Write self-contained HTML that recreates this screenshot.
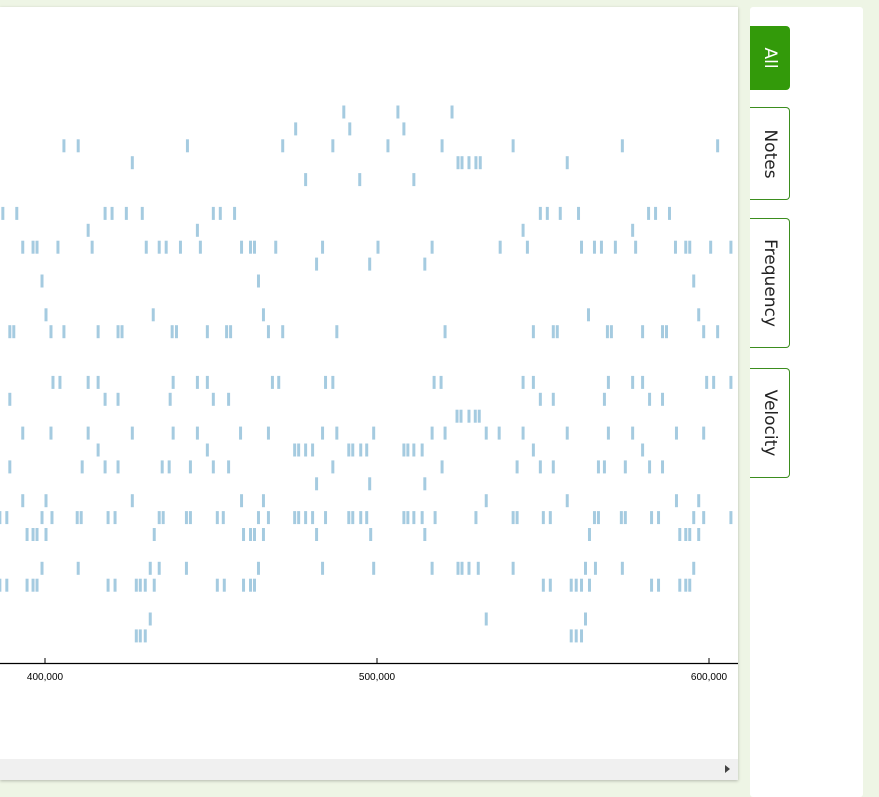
<!DOCTYPE html>
<html><head><meta charset="utf-8">
<style>
html,body{margin:0;padding:0;}
body{width:879px;height:789px;background:#eef5e5;position:relative;overflow:hidden;font-family:"Liberation Sans",sans-serif;}
#card{position:absolute;left:0;top:7px;width:738px;height:773px;background:#fff;box-shadow:0 1px 3px rgba(0,0,0,0.25);}
#scroll{position:absolute;left:0;top:752px;width:738px;height:21px;background:#f0f0f0;}
#arrow{position:absolute;right:8px;top:6px;width:0;height:0;border-top:4px solid transparent;border-bottom:4px solid transparent;border-left:5px solid #444;}
#panel{position:absolute;left:750px;top:7px;width:113px;height:790px;background:#fff;border-radius:3px;}
.tab{position:absolute;left:0;width:39px;border:1px solid #3b8d1e;border-left:none;border-radius:0 4px 4px 0;background:#fff;cursor:pointer;}
.tab span{position:absolute;left:50%;top:50%;transform:translate(-50%,-50%) rotate(90deg);white-space:nowrap;font-size:17px;color:#222;font-family:"DejaVu Sans","Liberation Sans",sans-serif;}
.tab.active{background:#339a0a;border-color:#339a0a;}
.tab.active span{color:#fff;}
</style></head><body>
<div id="card">
<svg id="chart" width="738" height="750" style="position:absolute;left:0;top:-7px"></svg>
<div id="scroll"><div id="arrow"></div></div>
</div>
<div id="panel">
<div class="tab active" style="top:19px;height:62px"><span>All</span></div>
<div class="tab" style="top:100px;height:91px"><span>Notes</span></div>
<div class="tab" style="top:211px;height:128px"><span>Frequency</span></div>
<div class="tab" style="top:361px;height:108px"><span>Velocity</span></div>
</div>
<script>
// note start times in thousands of ticks, per pitch
const pitches = [90,89,88,87,86,84,83,82,81,80,78,77,74,73,72,71,70,69,68,67,66,65,63,62,60,59];
const starts = [
[489.4,505.7,522.0],
[474.9,491.2,507.5],
[405.1,409.4,442.3,471.0,486.1,502.7,519.0,540.4,573.3,602.0],
[425.7,523.8,525.0,527.1,529.2,530.5,556.7],
[477.9,494.2,510.5],
[386.7,390.9,417.5,419.6,423.9,428.7,450.1,452.2,456.5,548.6,550.7,554.6,560.1,581.2,583.3,587.5],
[412.4,445.3,543.4,576.4],
[392.7,395.8,397.0,403.3,413.6,429.9,433.8,435.9,440.2,446.2,458.6,461.3,462.5,468.9,483.0,499.7,516.0,536.5,544.7,561.0,564.9,567.0,571.2,577.3,589.3,592.4,593.6,599.9,606.0],
[481.2,497.2,513.8],
[398.5,463.7,594.8],
[399.7,432.0,465.2,563.1,596.3],
[388.8,390.0,401.2,405.1,415.4,421.4,422.6,437.7,439.0,448.3,454.1,455.3,466.7,471.0,487.3,519.9,546.5,552.5,553.7,568.8,570.0,579.4,585.4,586.6,597.8,602.0],
[401.8,403.9,412.4,415.4,438.0,445.3,448.3,467.9,469.8,483.9,486.1,516.6,518.7,543.4,546.5,569.1,576.4,579.4,598.7,600.8,606.0],
[388.8,417.5,421.4,437.1,450.1,454.7,548.6,552.5,567.9,581.5,585.4],
[523.5,524.7,527.1,529.0,530.2],
[392.7,401.2,412.4,425.7,438.0,445.3,458.3,466.7,483.0,487.3,498.4,516.0,519.9,532.3,536.2,543.4,556.7,569.1,576.4,589.6,597.8],
[415.4,448.3,474.6,475.8,477.9,480.0,490.9,492.1,494.5,496.3,507.5,508.7,510.5,513.0,546.5,579.4],
[388.8,410.6,417.5,421.4,434.7,436.8,443.2,450.1,454.7,486.1,519.0,541.6,548.6,552.5,566.1,567.9,574.2,581.5,585.4],
[481.2,497.2,513.8],
[392.7,399.7,425.7,458.6,465.2,532.3,556.7,589.6,596.3],
[385.8,387.9,398.5,401.5,409.1,410.3,418.4,420.5,433.8,435.0,442.0,443.2,451.3,453.1,463.7,466.7,474.6,475.8,477.9,480.0,483.9,490.9,492.1,494.5,496.3,507.5,508.7,510.5,513.0,516.9,529.2,540.4,541.6,549.5,551.6,564.9,566.1,573.0,574.2,582.1,584.2,594.8,597.8,606.0],
[394.0,395.8,397.0,399.7,432.3,459.2,461.3,462.5,465.2,481.2,497.5,513.8,563.4,590.6,592.4,593.6,596.3],
[398.5,409.4,431.1,433.8,442.0,463.7,483.0,498.4,516.0,523.8,525.0,527.1,529.9,540.4,562.2,565.2,573.3,594.8],
[385.8,387.9,394.0,395.8,397.0,418.4,420.5,426.9,428.1,429.6,432.3,451.3,453.4,459.2,461.3,462.5,549.5,551.6,557.9,559.4,561.0,563.4,582.1,584.2,590.6,592.4,593.6],
[431.1,532.3,562.2],
[426.9,428.1,429.6,557.9,559.4,561.0]
];
const noteDuration = 0.9;
const tickValues = [400000,500000,600000];
const tickLabels = ["400,000","500,000","600,000"];

const NS = "http://www.w3.org/2000/svg";
const svg = document.getElementById('chart');
function xScale(tk){ return 45 + (tk - 400) * 3.32; }
function yScale(p){ return 112 + (90 - p) * 16.9; }

pitches.forEach((p, i) => {
  starts[i].forEach((s) => {
    const r = document.createElementNS(NS, 'rect');
    r.setAttribute('x', (xScale(s) + 0.5).toFixed(2));
    r.setAttribute('y', (yScale(p) - 6.5).toFixed(2));
    r.setAttribute('width', (xScale(s + noteDuration) - xScale(s)).toFixed(2));
    r.setAttribute('height', 13);
    r.setAttribute('fill', '#a5cbe0');
    
    
    svg.appendChild(r);
  });
});

const axis = document.createElementNS(NS, 'line');
axis.setAttribute('x1', 0); axis.setAttribute('x2', 738);
axis.setAttribute('y1', 663.5); axis.setAttribute('y2', 663.5);
axis.setAttribute('stroke', '#000'); axis.setAttribute('stroke-width', 1.3);


svg.appendChild(axis);

tickValues.forEach((v, i) => {
  const x = xScale(v / 1000);
  const t = document.createElementNS(NS, 'line');
  t.setAttribute('x1', x); t.setAttribute('x2', x);
  t.setAttribute('y1', 658); t.setAttribute('y2', 663);
  t.setAttribute('stroke', '#000');
  
  
  svg.appendChild(t);
  const tx = document.createElementNS(NS, 'text');
  tx.setAttribute('x', x); tx.setAttribute('y', 680);
  tx.setAttribute('text-anchor', 'middle');
  tx.setAttribute('font-size', '10');
  tx.setAttribute('font-family', 'Liberation Sans, sans-serif');
  tx.textContent = tickLabels[i];
  
  
  svg.appendChild(tx);
});
</script>
</body></html>
